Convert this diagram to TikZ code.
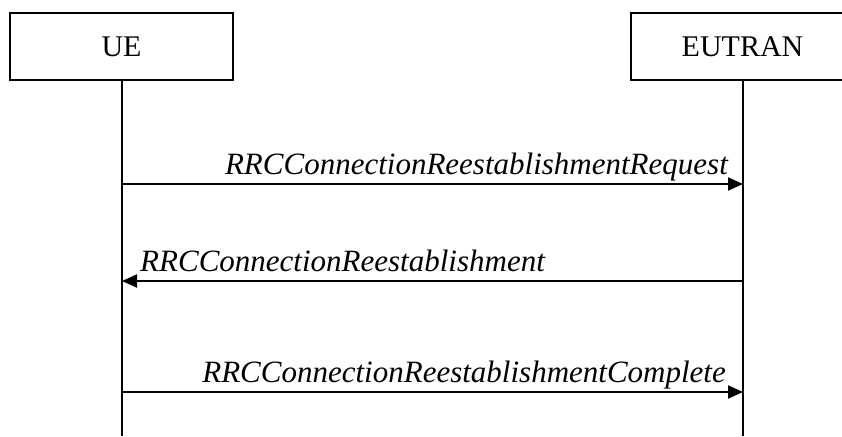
\documentclass[tikz,border=0pt]{standalone}
\usepackage{fontspec}
\setmainfont{Liberation Serif}
\usetikzlibrary{arrows.meta}
\begin{document}
\begin{tikzpicture}[x=1pt,y=-1pt,
  ent/.style={draw,line width=2pt,minimum width=223pt,minimum height=67pt,inner sep=0pt,font=\fontsize{30}{30}\selectfont},
  life/.style={line width=2pt},
  msg/.style={line width=2pt,-{Triangle[length=15pt,width=13pt]}},
  lbl/.style={font=\fontsize{31}{31}\itshape,inner sep=0pt,anchor=base}]
\useasboundingbox (0,0) rectangle (842,436);
\node[ent] (ue) at (121.5,46.5) {UE};
\node[ent] (eu) at (742.5,46.5) {EUTRAN};
\coordinate (ueb) at (122,436);
\coordinate (eub) at (743,436);
\draw[life] (ue.south) -- (ue.south |- ueb);
\draw[life] (eu.south) -- (eu.south |- eub);
\coordinate (a1s) at (122,184);
\coordinate (a1e) at (743,184);
\coordinate (a2s) at (743,281);
\coordinate (a2e) at (122,281);
\coordinate (a3s) at (122,392);
\coordinate (a3e) at (743,392);
\draw[msg] (a1s) -- (a1e);
\draw[msg] (a2s) -- (a2e);
\draw[msg] (a3s) -- (a3e);
\node[lbl,anchor=base east] (l1) at (728,174) {RRCConnectionReestablishmentRequest};
\node[lbl,anchor=base west] (l2) at (140,271) {RRCConnectionReestablishment};
\node[lbl,anchor=base east] (l3) at (726,382) {RRCConnectionReestablishmentComplete};
\end{tikzpicture}
\end{document}
